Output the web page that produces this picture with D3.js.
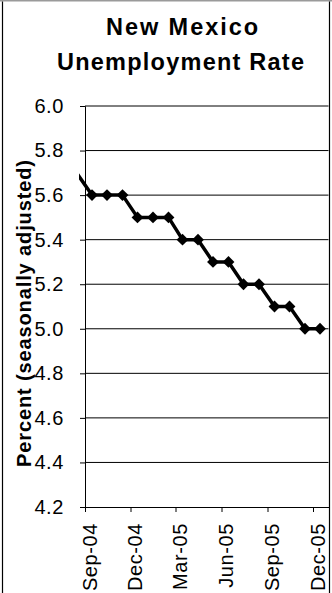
<!DOCTYPE html>
<html>
<head>
<meta charset="utf-8">
<script src="https://cdn.jsdelivr.net/npm/d3@7"></script>
<style>
  html, body { margin: 0; padding: 0; background: #fff; }
  svg { display: block; font-family: "Liberation Sans", Arial, sans-serif; }
</style>
</head>
<body>
<svg id="chart" width="332" height="593"></svg>
<script>
// Monthly New Mexico unemployment rate, seasonally adjusted (observations dated mid-month)
const months = ["2004-08","2004-09","2004-10","2004-11","2004-12","2005-01","2005-02","2005-03",
                "2005-04","2005-05","2005-06","2005-07","2005-08","2005-09","2005-10","2005-11","2005-12"];
const rates  = [5.7, 5.6, 5.6, 5.6, 5.5, 5.5, 5.5, 5.4, 5.4, 5.3, 5.3, 5.2, 5.2, 5.1, 5.1, 5.0, 5.0];
const yTicks = [4.2, 4.4, 4.6, 4.8, 5.0, 5.2, 5.4, 5.6, 5.8, 6.0];
const xTickLabels = ["Sep-04", "Dec-04", "Mar-05", "Jun-05", "Sep-05", "Dec-05"];
const titleLines = ["New Mexico", "Unemployment Rate"];
const yTitle = "Percent (seasonally adjusted)";

const parseMonth = d3.timeParse("%Y-%m");
const data = months.map((m, i) => {
  const d = parseMonth(m);
  d.setDate(15);
  return { date: d, value: rates[i] };
});
const tickDates = xTickLabels.map(s => d3.timeParse("%b-%y")(s));

const svg = d3.select("#chart");
const plotLeft = 85, plotRight = 328.5, plotTop = 106, plotBottom = 507;

const x = d3.scaleTime()
  .domain([new Date(2004, 8, 1), new Date(2006, 0, 1)])
  .range([plotLeft, plotRight]);
const y = d3.scaleLinear().domain([4.2, 6.0]).range([plotBottom, plotTop]);

// outer frame
svg.append("line").attr("x1", 0).attr("x2", 332).attr("y1", 0.75).attr("y2", 0.75)
  .attr("stroke", "#9a9a9a").attr("stroke-width", 1.5);
svg.append("line").attr("x1", 2.5).attr("x2", 2.5).attr("y1", 1.5).attr("y2", 593)
  .attr("stroke", "#000").attr("stroke-width", 1.2);
svg.append("line").attr("x1", 329.5).attr("x2", 329.5).attr("y1", 1.5).attr("y2", 593)
  .attr("stroke", "#000").attr("stroke-width", 1.2);

// title
const titleCenters = [182, 180.5], titleWidths = [152, 247], titleBase = [35, 69.5];
svg.selectAll("text.title").data(titleLines).join("text")
  .attr("class", "title")
  .attr("x", (d, i) => titleCenters[i])
  .attr("y", (d, i) => titleBase[i])
  .attr("text-anchor", "middle")
  .attr("font-size", 23.5).attr("font-weight", "bold")
  .attr("textLength", (d, i) => titleWidths[i])
  .attr("lengthAdjust", "spacing")
  .text(d => d);

// horizontal gridlines
svg.append("g").selectAll("line").data(yTicks.filter(v => v > 4.2)).join("line")
  .attr("x1", plotLeft).attr("x2", plotRight)
  .attr("y1", d => y(d)).attr("y2", d => y(d))
  .attr("stroke", "#000").attr("stroke-width", 1);

// y axis
const yAxis = svg.append("g").attr("transform", `translate(${plotLeft},0)`)
  .call(d3.axisLeft(y).tickValues(yTicks).tickFormat(d3.format(".1f")).tickSize(5).tickPadding(16));
yAxis.select(".domain").attr("stroke", "#000").attr("stroke-width", 1);
yAxis.selectAll(".tick line").attr("stroke", "#000");
yAxis.selectAll(".tick text")
  .attr("font-family", "Liberation Sans, Arial, sans-serif")
  .attr("font-size", 20).attr("fill", "#000")
  .attr("letter-spacing", 0.6);

// x axis
const xAxis = svg.append("g").attr("transform", `translate(0,${plotBottom})`)
  .call(d3.axisBottom(x).tickValues(tickDates).tickFormat(d3.timeFormat("%b-%y")).tickSize(5).tickSizeOuter(0));
xAxis.select(".domain").attr("stroke", "#000").attr("stroke-width", 1);
xAxis.selectAll(".tick line").attr("stroke", "#000");
xAxis.selectAll(".tick text")
  .attr("font-family", "Liberation Sans, Arial, sans-serif")
  .attr("font-size", 20).attr("fill", "#000")
  .attr("letter-spacing", 0.6)
  .attr("text-anchor", "end")
  .attr("dy", null)
  .attr("y", 0)
  .attr("transform", "translate(11,16) rotate(-90)");

// y axis title
svg.append("text")
  .attr("transform", "translate(31,313.5) rotate(-90)")
  .attr("text-anchor", "middle")
  .attr("font-size", 20).attr("font-weight", "bold")
  .attr("textLength", 307).attr("lengthAdjust", "spacing")
  .text(yTitle);

// series line, clipped at the plot's left side
svg.append("clipPath").attr("id", "plotClip")
  .append("rect").attr("x", 79).attr("y", 0).attr("width", 260).attr("height", 593);

const line = d3.line().x(d => x(d.date)).y(d => y(d.value));
svg.append("path").datum(data)
  .attr("clip-path", "url(#plotClip)")
  .attr("d", line)
  .attr("fill", "none").attr("stroke", "#000").attr("stroke-width", 3.5)
  .attr("stroke-linejoin", "round");

// diamond markers for observations inside the date range
const diamond = d3.symbol().type(d3.symbolSquare).size(70);
svg.append("g").selectAll("path").data(data.filter(d => d.date >= x.domain()[0])).join("path")
  .attr("d", diamond)
  .attr("transform", d => `translate(${x(d.date)},${y(d.value)}) rotate(45)`)
  .attr("fill", "#000");
</script>
</body>
</html>
